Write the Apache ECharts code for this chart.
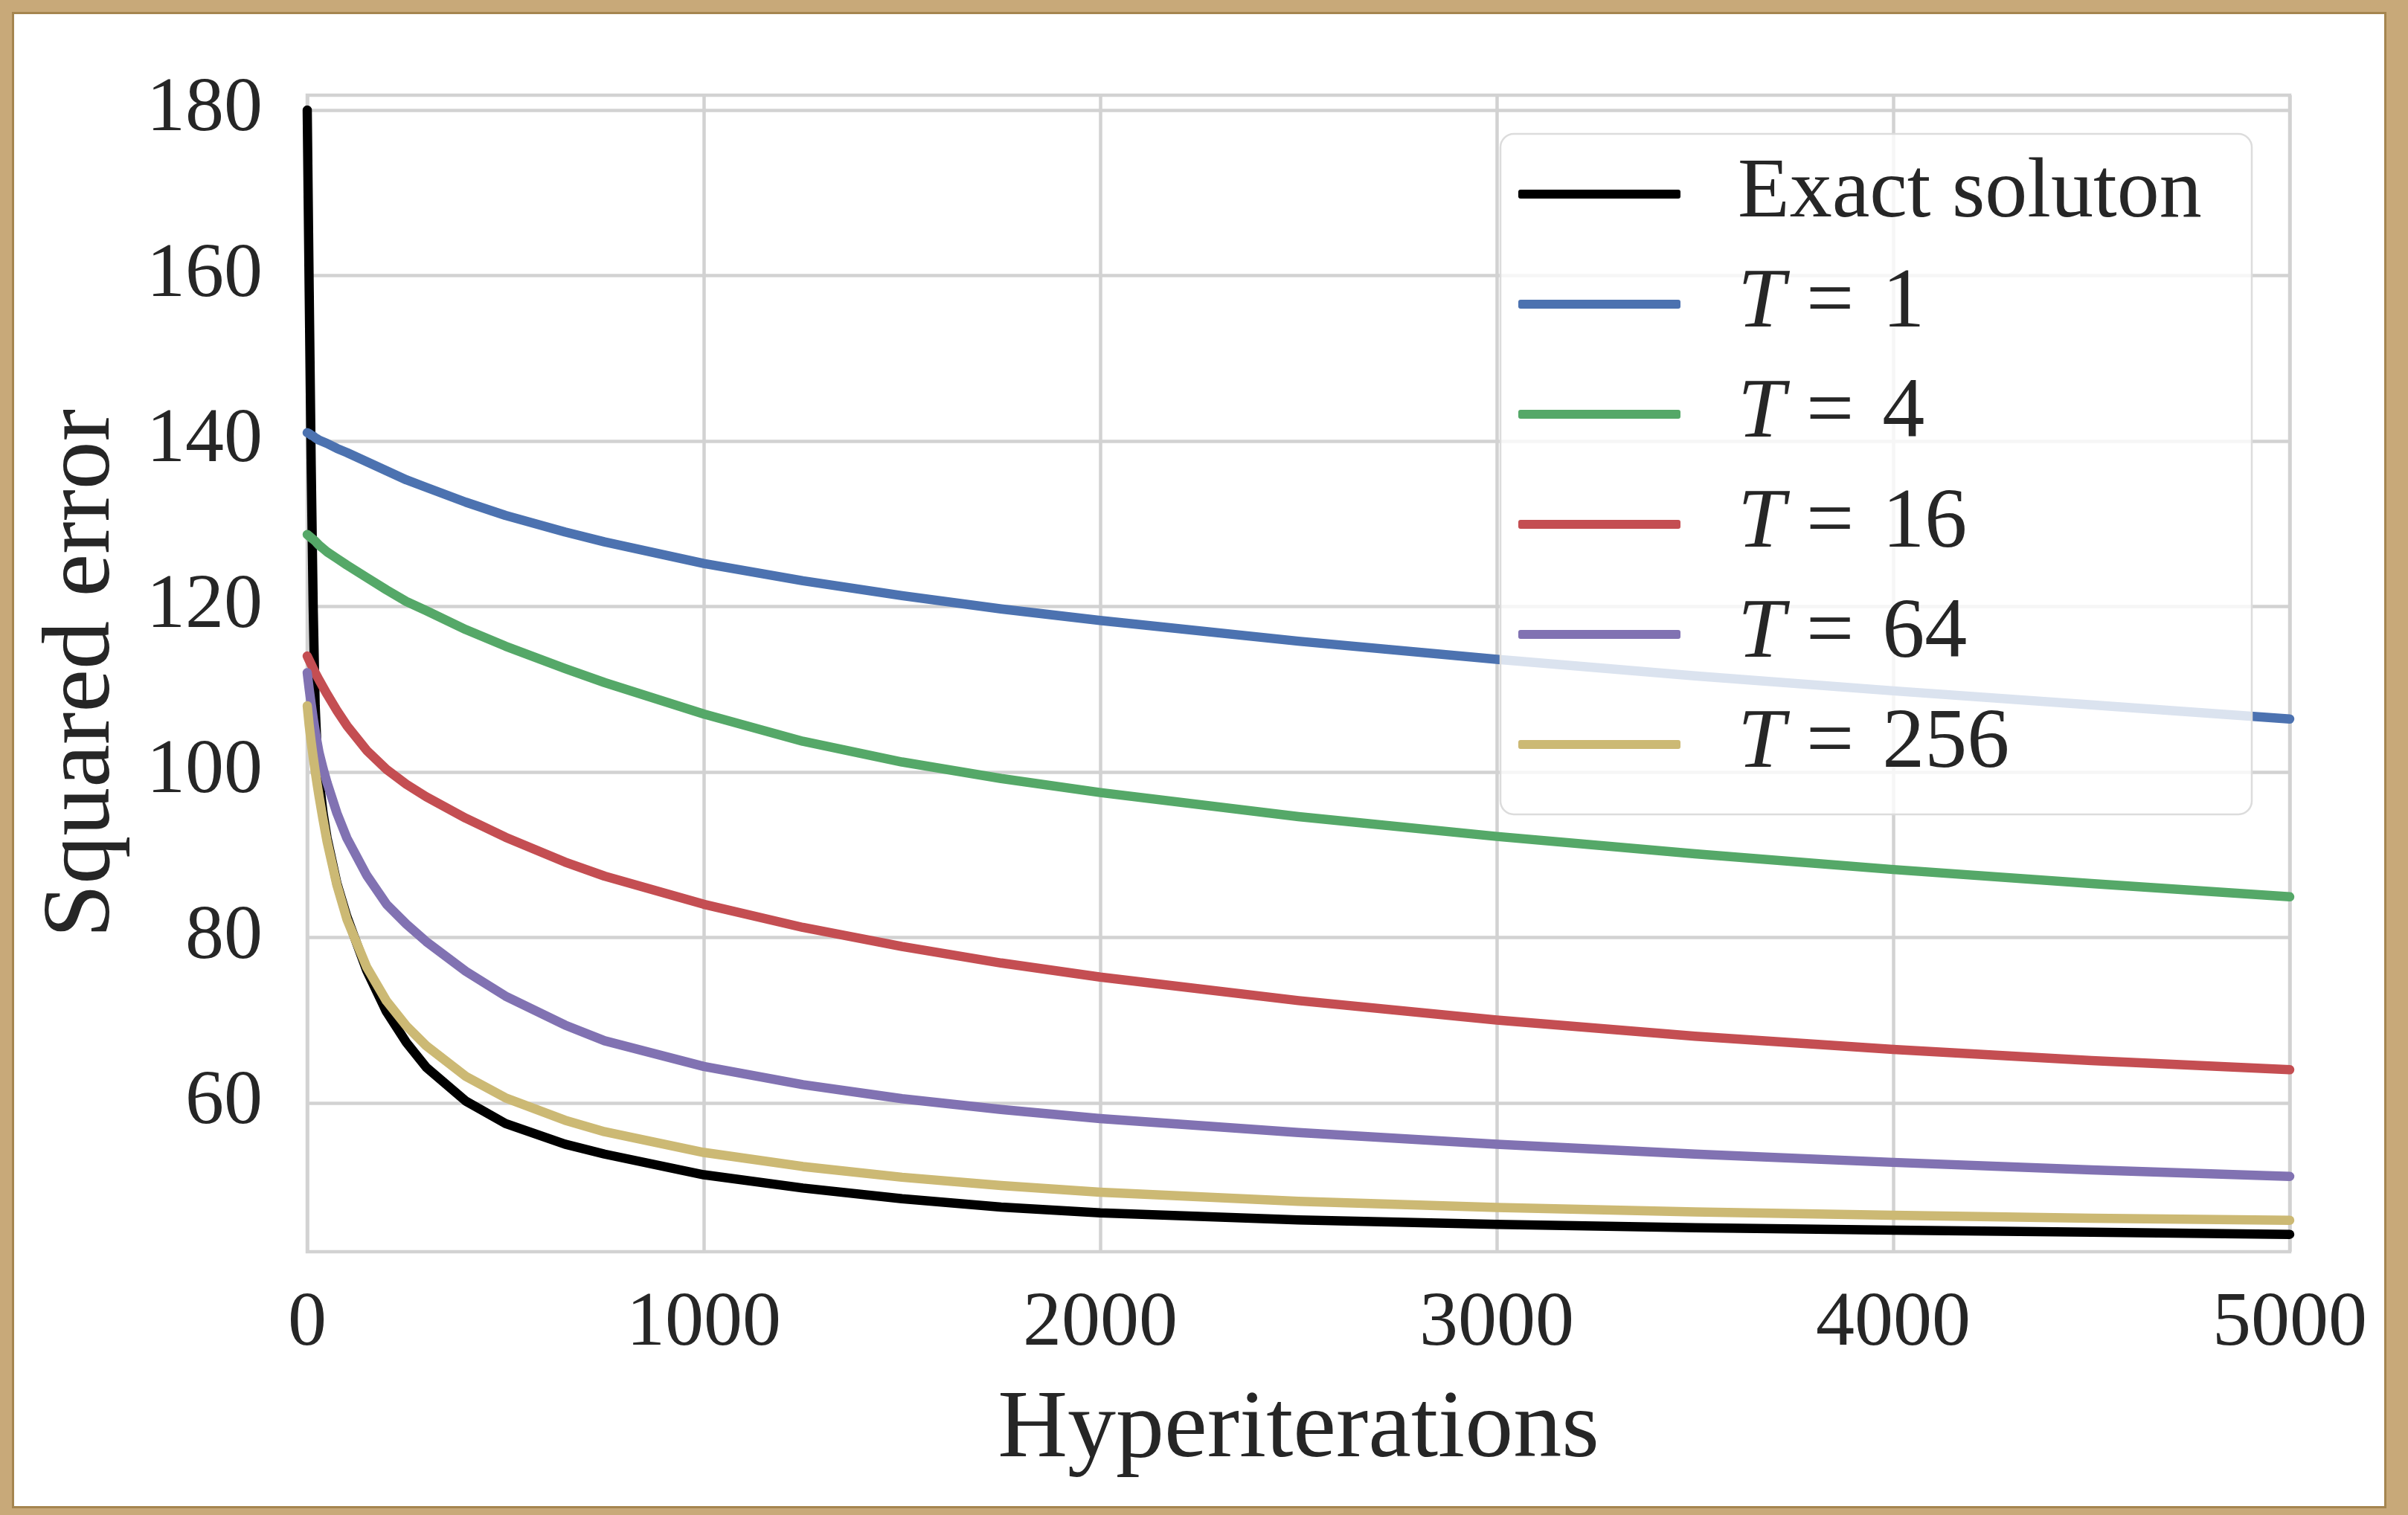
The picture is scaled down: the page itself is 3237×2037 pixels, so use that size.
<!DOCTYPE html>
<html>
<head>
<meta charset="utf-8">
<script src="https://cdn.jsdelivr.net/npm/echarts@6/dist/echarts.min.js"></script>
<style>
  html, body { margin: 0; padding: 0; background: #c8a979; overflow: hidden; }
  #paper { position: absolute; left: 19px; top: 19px; width: 3186px; height: 2006px; background: #ffffff; box-shadow: 0 0 0 3px #a5854f; }
  #chart { position: absolute; left: 0; top: 0; width: 3237px; height: 2037px; }
</style>
</head>
<body>
<div id="paper"></div>
<div id="chart"></div>
<script>
// ---- data ----
const iterations = [0, 5, 10, 15, 20, 25, 30, 40, 50, 75, 100, 150, 200, 250, 300, 400, 500, 650, 750, 1000, 1250, 1500, 1750, 2000, 2500, 3000, 3500, 4000, 4500, 5000];
const exactSolution = [180, 158, 137, 120, 108, 102.5, 99, 95, 92, 86.5, 82.5, 76, 71, 67.3, 64.3, 60.2, 57.5, 55.0, 53.8, 51.3, 49.7, 48.4, 47.4, 46.7, 45.85, 45.3, 44.9, 44.6, 44.35, 44.1];
const t1   = [141, 140.9, 140.7, 140.6, 140.4, 140.25, 140.1, 139.9, 139.7, 139.1, 138.6, 137.5, 136.4, 135.3, 134.4, 132.6, 131, 129, 127.8, 125.2, 123.1, 121.3, 119.7, 118.3, 115.8, 113.6, 111.6, 109.8, 108.1, 106.4];
const t4   = [128.7, 128.5, 128.3, 128.1, 127.9, 127.65, 127.4, 127.0, 126.6, 125.8, 125, 123.5, 122, 120.6, 119.5, 117.2, 115.2, 112.5, 110.8, 107.0, 103.7, 101.2, 99.2, 97.5, 94.6, 92.2, 90.1, 88.2, 86.5, 84.9];
const t16  = [114, 113.5, 113.0, 112.5, 112.0, 111.55, 111.1, 110.25, 109.4, 107.4, 105.6, 102.6, 100.3, 98.5, 97.0, 94.4, 92.1, 89.1, 87.4, 84.0, 81.2, 78.9, 76.9, 75.2, 72.35, 70.0, 68.05, 66.45, 65.1, 64.0];
const t64  = [112, 110, 108.2, 106.5, 105, 103.6, 102.3, 100.4, 98.7, 95, 92, 87.5, 84.0, 81.6, 79.5, 75.9, 72.9, 69.4, 67.5, 64.4, 62.2, 60.5, 59.2, 58.1, 56.4, 55.0, 53.8, 52.8, 51.9, 51.1];
const t256 = [108, 105.6, 103.6, 101.8, 100.1, 98.5, 97.0, 94.2, 91.6, 86.3, 82.2, 76.4, 72.3, 69.3, 66.9, 63.2, 60.6, 57.9, 56.5, 54.0, 52.3, 51.0, 50.0, 49.2, 48.1, 47.35, 46.8, 46.4, 46.05, 45.8];
const seriesNames = ['Exact soluton', 'T = 1', 'T = 4', 'T = 16', 'T = 64', 'T = 256'];
const yTicks = [60, 80, 100, 120, 140, 160, 180];
const xTicks = [0, 1000, 2000, 3000, 4000, 5000];

// ---- styling ----
const colors = ['#000000', '#4c72b0', '#55a868', '#c44e52', '#8172b2', '#ccb974'];
const FONT = 'Liberation Serif';
const TXT = '#262626';
const GRIDC = '#d2d2d2';

const allValues = [exactSolution, t1, t4, t16, t64, t256];
const series = allValues.map((vals, i) => ({
  name: seriesNames[i],
  type: 'line',
  data: iterations.map((x, k) => [x, vals[k]]),
  showSymbol: false,
  smooth: false,
  color: colors[i],
  itemStyle: { color: colors[i] },
  lineStyle: { color: colors[i], width: 12.5, cap: 'round', join: 'round' },
  z: 2 + i,
  silent: true
}));

const chart = echarts.init(document.getElementById('chart'), null, { renderer: 'canvas' });
chart.setOption({
  animation: false,
  backgroundColor: 'transparent',
  grid: {
    left: 413, right: 159, top: 128, bottom: 354,
    show: true, borderColor: GRIDC, borderWidth: 4.5, backgroundColor: 'transparent'
  },
  xAxis: {
    type: 'value', min: 0, max: 5000, interval: 1000,
    name: 'Hyperiterations', nameLocation: 'middle', nameGap: 176,
    nameTextStyle: { fontFamily: FONT, fontSize: 130, color: TXT },
    axisLine: { show: false }, axisTick: { show: false },
    axisLabel: { fontFamily: FONT, fontSize: 104, color: TXT, margin: 46,
      customValues: xTicks, formatter: v => String(v) },
    splitLine: { show: true, lineStyle: { color: GRIDC, width: 4.5 } }
  },
  yAxis: {
    type: 'value', min: 42, max: 181.8,
    name: 'Squared error', nameLocation: 'middle', nameGap: 236, nameRotate: 90,
    nameTextStyle: { fontFamily: FONT, fontSize: 130, color: TXT },
    axisLine: { show: false },
    axisTick: { show: false, customValues: yTicks },
    axisLabel: { fontFamily: FONT, fontSize: 104, color: TXT, margin: 60,
      customValues: yTicks, formatter: v => String(v) },
    splitLine: { show: true, lineStyle: { color: GRIDC, width: 4.5 } }
  },
  legend: {
    orient: 'vertical', left: 2041, top: 201, padding: 0,
    itemWidth: 218, itemHeight: 12, itemGap: 28, icon: 'roundRect',
    z: 60, selectedMode: false,
    data: seriesNames,
    formatter: name => name.indexOf('T = ') === 0 ? '{i|T} =\u200A ' + name.slice(4) : name,
    textStyle: {
      fontFamily: FONT, fontSize: 114, color: TXT, lineHeight: 120,
      padding: [0, 0, 0, 72],
      rich: { i: { fontFamily: FONT, fontStyle: 'italic', fontSize: 114, color: TXT, lineHeight: 120 } }
    }
  },
  graphic: [{
    type: 'rect', z: 50, silent: true,
    shape: { x: 2017, y: 180, width: 1010, height: 915, r: 18 },
    style: { fill: 'rgba(255,255,255,0.8)', stroke: '#dcdcdc', lineWidth: 2.5 }
  }],
  series: series
});
</script>
</body>
</html>
